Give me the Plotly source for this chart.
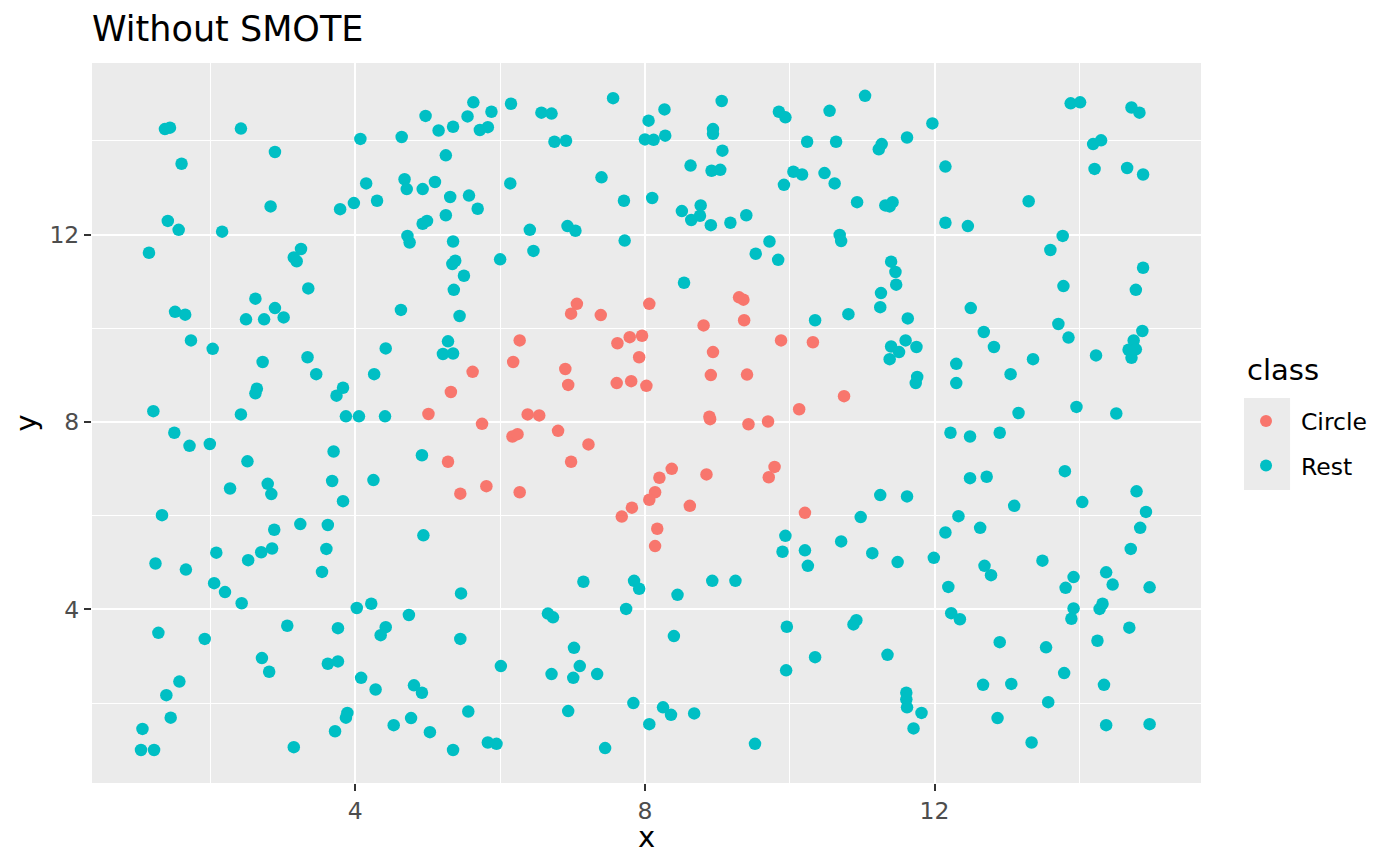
import plotly.graph_objects as go

# points
circle_x = [7.06, 6.98, 7.39, 8.06, 6.27, 6.18, 5.62, 5.32, 5.01, 5.75,
            7.62, 7.79, 7.96, 7.92, 6.90, 6.94, 7.61, 7.81, 8.02, 6.38,
            6.54, 6.80, 6.17, 6.24, 7.22, 5.28, 6.98, 5.81, 5.45, 6.27,
            8.14, 8.06, 7.82, 7.68, 8.17, 8.14, 9.30, 9.36, 9.37, 8.81,
            9.88, 10.32, 8.94, 8.91, 9.41, 10.75, 10.13, 8.89, 8.90, 9.43,
            9.70, 8.37, 8.20, 8.85, 9.79, 9.71, 8.62, 10.21]
circle_y = [10.52, 10.31, 10.28, 10.52, 9.74, 9.28, 9.07, 8.64, 8.17, 7.96,
            9.68, 9.81, 9.84, 9.38, 9.13, 8.79, 8.83, 8.87, 8.77, 8.16,
            8.14, 7.81, 7.69, 7.74, 7.52, 7.15, 7.15, 6.63, 6.47, 6.50,
            6.50, 6.34, 6.17, 5.98, 5.72, 5.35, 10.66, 10.61, 10.17, 10.06,
            9.74, 9.70, 9.49, 9.00, 9.01, 8.55, 8.27, 8.11, 8.06, 7.95,
            8.01, 7.00, 6.81, 6.88, 7.04, 6.82, 6.21, 6.06]

rest_x = [1.37, 1.44, 2.42, 4.07, 2.89, 1.60, 4.15, 4.30, 2.83, 3.79,
          3.98, 1.41, 1.56, 2.16, 1.15, 3.25, 3.15, 3.19, 3.35, 2.62,
          5.63, 4.97, 5.55, 5.88, 6.15, 5.15, 5.35, 5.72, 5.83, 4.64,
          6.57, 6.71, 7.56, 8.05, 6.75, 6.91, 8.00, 8.12, 5.25, 4.68,
          4.71, 4.93, 5.10, 5.31, 5.57, 5.69, 6.14, 5.25, 4.93, 4.99,
          4.72, 4.75, 5.35, 5.34, 5.38, 5.50, 5.36, 6.00, 6.41, 6.46,
          6.93, 7.04, 7.40, 7.71, 7.72, 8.10, 8.27, 9.06, 8.28, 8.94,
          8.94, 9.07, 9.85, 9.94, 10.55, 11.04, 11.97, 10.24, 10.64, 11.27,
          11.23, 11.62, 8.63, 8.92, 9.04, 10.05, 10.17, 9.92, 10.48, 10.62,
          8.51, 8.64, 8.76, 8.77, 8.91, 9.18, 9.40, 10.93, 11.32, 11.38,
          11.42, 9.72, 9.53, 9.84, 10.69, 10.71, 11.40, 11.46, 11.47, 11.26,
          8.54, 13.88, 14.01, 14.72, 14.83, 14.19, 14.30, 12.15, 14.21, 14.66,
          14.88, 13.30, 12.15, 12.46, 13.77, 13.60, 14.88, 13.78, 14.78, 1.51,
          1.65, 2.89, 2.49, 2.74, 3.01, 1.73, 2.03, 2.72, 3.34, 3.46,
          4.26, 2.64, 2.62, 3.83, 3.74, 1.21, 2.42, 3.87, 4.05, 1.50,
          1.71, 1.99, 2.51, 3.70, 2.27, 2.79, 2.84, 3.68, 4.25, 3.83,
          1.33, 2.88, 3.24, 3.62, 4.63, 5.44, 4.42, 5.28, 5.21, 5.35,
          4.41, 4.92, 4.94, 11.25, 10.81, 10.35, 11.63, 11.40, 11.60, 11.51,
          11.75, 11.38, 11.76, 11.74, 11.25, 11.62, 10.98, 12.50, 12.68, 12.82,
          12.30, 12.30, 13.05, 13.36, 13.71, 13.85, 14.23, 14.87, 14.75, 14.68,
          14.78, 14.72, 13.16, 13.96, 14.51, 12.22, 12.49, 12.90, 13.80, 12.49,
          12.72, 13.10, 14.04, 14.79, 14.92, 12.33, 12.15, 12.63, 14.84, 1.24,
          1.66, 2.08, 2.52, 2.70, 2.85, 3.60, 3.54, 2.05, 2.20, 2.43,
          4.02, 4.22, 1.28, 1.92, 3.06, 3.76, 2.71, 2.81, 3.62, 3.76,
          4.08, 4.28, 1.57, 1.39, 1.45, 1.06, 1.04, 1.22, 3.89, 3.87,
          3.72, 3.15, 5.46, 4.74, 4.42, 4.35, 5.45, 6.01, 4.81, 4.92,
          5.56, 4.53, 4.77, 5.03, 5.35, 5.83, 5.95, 7.15, 7.85, 7.92,
          7.74, 6.66, 6.73, 7.02, 7.10, 7.01, 6.71, 7.34, 6.94, 7.84,
          8.06, 7.45, 9.94, 9.90, 10.21, 10.25, 10.71, 11.14, 11.49, 11.99,
          8.93, 9.25, 8.45, 8.40, 9.96, 10.92, 10.88, 10.35, 11.35, 9.95,
          11.61, 11.61, 11.62, 11.82, 11.71, 8.25, 8.36, 8.68, 9.52, 14.71,
          12.69, 12.78, 13.49, 12.19, 13.92, 13.81, 14.37, 14.46, 14.97, 12.23,
          12.35, 13.92, 13.89, 14.32, 14.28, 14.69, 12.90, 13.54, 14.25, 13.79,
          12.67, 13.06, 14.34, 13.57, 12.87, 14.37, 14.97, 13.34]
rest_y = [14.25, 14.28, 14.26, 14.04, 13.76, 13.51, 13.09, 12.72, 12.60, 12.54,
          12.67, 12.29, 12.10, 12.06, 11.61, 11.69, 11.51, 11.43, 10.85, 10.63,
          14.82, 14.53, 14.52, 14.62, 14.79, 14.22, 14.30, 14.23, 14.29, 14.08,
          14.60, 14.58, 14.91, 14.43, 13.98, 14.00, 14.03, 14.02, 13.69, 13.18,
          12.97, 12.97, 13.12, 12.80, 12.83, 12.55, 13.09, 12.41, 12.23, 12.29,
          11.97, 11.83, 11.85, 11.37, 11.44, 11.12, 10.82, 11.47, 12.10, 11.65,
          12.18, 12.08, 13.22, 12.72, 11.87, 12.78, 14.67, 14.85, 14.11, 14.25,
          14.15, 13.79, 14.62, 14.50, 14.64, 14.96, 14.37, 13.98, 13.98, 13.93,
          13.82, 14.07, 13.47, 13.36, 13.38, 13.34, 13.28, 13.06, 13.31, 13.09,
          12.50, 12.31, 12.40, 12.62, 12.20, 12.25, 12.41, 12.69, 12.62, 12.60,
          12.69, 11.85, 11.59, 11.46, 11.99, 11.86, 11.42, 11.20, 10.93, 10.75,
          10.97, 14.80, 14.82, 14.71, 14.60, 13.93, 14.01, 13.45, 13.40, 13.42,
          13.28, 12.71, 12.25, 12.18, 11.97, 11.67, 11.29, 10.90, 10.82, 10.35,
          10.29, 10.43, 10.19, 10.19, 10.23, 9.74, 9.56, 9.28, 9.38, 9.02,
          9.02, 8.71, 8.61, 8.73, 8.56, 8.23, 8.16, 8.12, 8.12, 7.77,
          7.49, 7.53, 7.16, 7.37, 6.58, 6.68, 6.46, 6.74, 6.76, 6.31,
          6.01, 5.70, 5.82, 5.80, 10.39, 10.26, 9.57, 9.72, 9.45, 9.46,
          8.12, 7.29, 5.58, 10.45, 10.30, 10.17, 10.21, 9.61, 9.74, 9.49,
          9.60, 9.34, 8.96, 8.83, 6.44, 6.41, 5.97, 10.43, 9.92, 9.60,
          9.24, 8.83, 9.02, 9.34, 10.09, 9.80, 9.42, 9.94, 9.74, 9.54,
          9.55, 9.37, 8.19, 8.32, 8.18, 7.77, 7.69, 7.77, 6.95, 6.80,
          6.83, 6.21, 6.29, 6.52, 6.08, 5.99, 5.64, 5.74, 5.74, 4.98,
          4.85, 5.21, 5.05, 5.22, 5.30, 5.29, 4.80, 4.56, 4.37, 4.13,
          4.03, 4.12, 3.50, 3.37, 3.65, 3.60, 2.96, 2.67, 2.84, 2.89,
          2.54, 2.29, 2.46, 2.17, 1.69, 1.45, 1.00, 1.00, 1.79, 1.69,
          1.40, 1.06, 4.34, 3.88, 3.62, 3.45, 3.37, 2.79, 2.38, 2.22,
          1.82, 1.53, 1.68, 1.38, 1.00, 1.16, 1.13, 4.59, 4.61, 4.44,
          4.01, 3.91, 3.83, 3.18, 2.79, 2.54, 2.62, 2.62, 1.83, 2.00,
          1.55, 1.04, 5.57, 5.23, 5.26, 4.93, 5.45, 5.20, 5.01, 5.10,
          4.61, 4.61, 4.31, 3.43, 3.63, 3.77, 3.68, 2.98, 3.03, 2.70,
          2.22, 2.08, 1.91, 1.79, 1.46, 1.91, 1.75, 1.78, 1.13, 5.29,
          4.93, 4.73, 5.04, 4.48, 4.69, 4.46, 4.79, 4.53, 4.47, 3.92,
          3.79, 4.02, 3.80, 4.12, 4.01, 3.61, 3.30, 3.19, 3.33, 2.64,
          2.39, 2.41, 2.39, 2.02, 1.68, 1.53, 1.55, 1.16]

font = "DejaVu Sans"
pad = "\u00a0\u00a0"  # push legend labels away from the keys, like ggplot

data = [
    go.Scatter(x=circle_x, y=circle_y, mode="markers", name=pad + "Circle",
               legendgroup="Circle",
               marker=dict(color="#F8766D", size=12.5, line=dict(width=0))),
    go.Scatter(x=rest_x, y=rest_y, mode="markers", name=pad + "Rest",
               legendgroup="Rest",
               marker=dict(color="#00BFC4", size=12.5, line=dict(width=0))),
]

axis_style = dict(
    dtick=4, tick0=0,
    showgrid=True, gridcolor="white", gridwidth=2.4,
    minor=dict(dtick=2, tick0=0, showgrid=True, gridcolor="white", gridwidth=1.2),
    zeroline=False, showline=False,
    ticks="outside", ticklen=7, tickwidth=1.5, tickcolor="#333333",
    tickfont=dict(family=font, size=23.5, color="#4D4D4D"),
)

layout = go.Layout(
    width=1392, height=858,
    margin=dict(l=84, r=199, t=55, b=83),
    paper_bgcolor="white",
    plot_bgcolor="#EBEBEB",
    font=dict(family=font, color="black"),
    title=dict(text="Without SMOTE", x=0, xref="paper", xanchor="left",
               y=0.976, yanchor="middle",
               font=dict(family=font, size=35, color="black")),
    xaxis=dict(range=[0.363, 15.68], **axis_style),
    yaxis=dict(range=[0.295, 15.66],
               title=dict(text="y", font=dict(size=29), standoff=4),
               **axis_style),
    legend=dict(x=1.0406, xanchor="left", y=0.533, yanchor="top",
                bgcolor="rgba(0,0,0,0)",
                font=dict(size=23.5, color="black"),
                tracegroupgap=11, itemsizing="constant"),
    annotations=[
        dict(text="class", xref="paper", yref="paper",
             x=1.0397, y=0.5736, xanchor="left", yanchor="middle",
             showarrow=False, font=dict(size=29, color="black")),
        dict(text="x", xref="paper", yref="paper",
             x=0.5, y=-0.0755, xanchor="center", yanchor="middle",
             height=26, valign="middle",
             showarrow=False, font=dict(size=29, color="black")),
    ],
    shapes=[dict(type="rect", xref="paper", yref="paper",
                 x0=1.0388, x1=1.0803, y0=0.4069, y1=0.5347,
                 fillcolor="#EBEBEB", line=dict(width=0), layer="below")],
)

fig = go.Figure(data=data, layout=layout)
fig.write_html("out.html")
